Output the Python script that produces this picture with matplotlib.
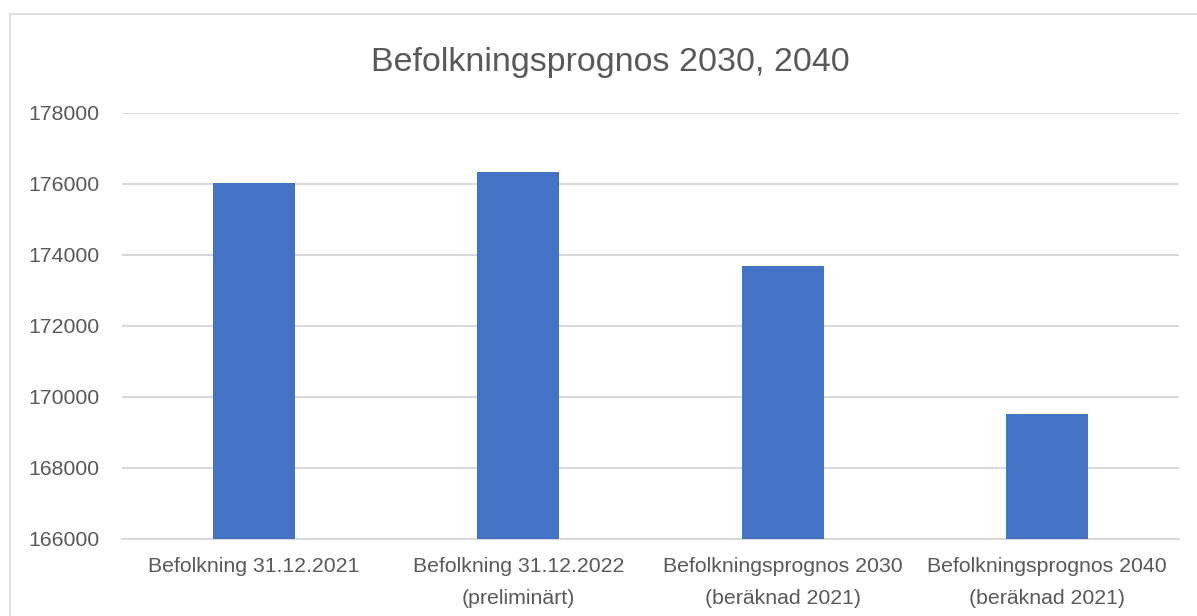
import matplotlib
matplotlib.use('Agg')
import matplotlib.pyplot as plt
from matplotlib.patches import Rectangle

categories = [
    'Befolkning 31.12.2021',
    'Befolkning 31.12.2022\n(preliminärt)',
    'Befolkningsprognos 2030\n(beräknad 2021)',
    'Befolkningsprognos 2040\n(beräknad 2021)',
]
values = [176040, 176340, 173690, 169530]
yticks = [166000, 168000, 170000, 172000, 174000, 176000, 178000]

plt.rcParams['font.family'] = ['Liberation Sans', 'DejaVu Sans']

fig = plt.figure(figsize=(11.97, 6.16), dpi=100)
ax = fig.add_axes([0.1019, 0.125, 0.8831, 0.6916])

x = range(len(categories))
ax.bar(x, values, width=0.31, color='#4472c4', zorder=3)
ax.set_xlim(-0.5, len(categories) - 0.5)
ax.set_ylim(yticks[0], yticks[-1])
ax.set_yticks(yticks)
ax.set_yticklabels([str(v) for v in yticks])
ax.set_xticks(list(x))
ax.set_xticklabels(categories, linespacing=1.85)
ax.grid(axis='y', color='#d9d9d9', linewidth=1.5, zorder=0)
ax.tick_params(axis='both', length=0, labelsize=15.3, colors='#595959')
ax.tick_params(axis='y', pad=16)
ax.tick_params(axis='x', pad=13)
for side in ['top', 'right', 'left']:
    ax.spines[side].set_visible(False)
ax.spines['bottom'].set_color('#d9d9d9')
ax.spines['bottom'].set_linewidth(1.5)

fig.text(0.51, 0.898, 'Befolkningsprognos 2030, 2040', ha='center', va='center',
         fontsize=24.5, color='#595959')

fig.patches.append(Rectangle((10 / 1197, -0.1), 1.2, 1 - 14 / 616 + 0.1,
                             transform=fig.transFigure, fill=False,
                             edgecolor='#d9d9d9', linewidth=1.2))

fig.savefig('out.png', dpi=100)
